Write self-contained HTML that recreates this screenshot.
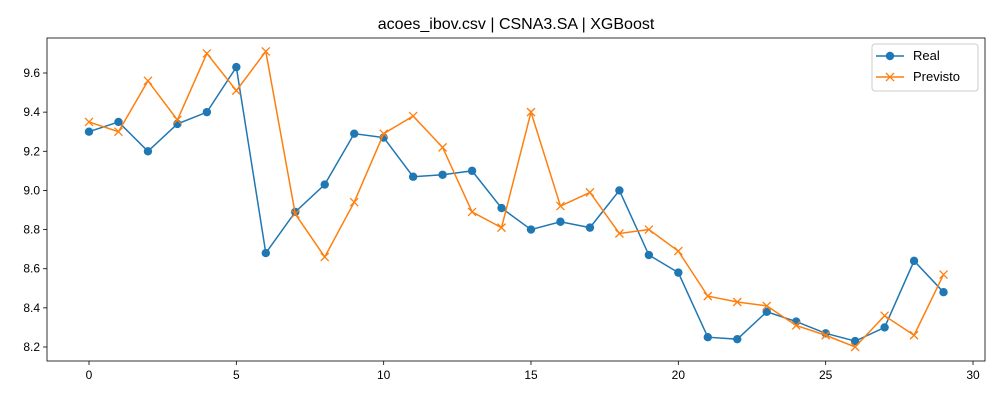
<!DOCTYPE html>
<html><head><meta charset="utf-8"><style>
body{margin:0;background:#fff;}
svg text{font-family:"Liberation Sans","DejaVu Sans",sans-serif;}
</style></head><body>
<svg id="chart" width="1000" height="400"></svg>
<script>
const xs = [0,1,2,3,4,5,6,7,8,9,10,11,12,13,14,15,16,17,18,19,20,21,22,23,24,25,26,27,28,29];
const realValues = [9.30,9.35,9.20,9.34,9.40,9.63,8.68,8.89,9.03,9.29,9.27,9.07,9.08,9.10,8.91,8.80,8.84,8.81,9.00,8.67,8.58,8.25,8.24,8.38,8.33,8.27,8.23,8.30,8.64,8.48];
const predValues = [9.35,9.30,9.56,9.36,9.70,9.51,9.71,8.88,8.66,8.94,9.29,9.38,9.22,8.89,8.81,9.40,8.92,8.99,8.78,8.80,8.69,8.46,8.43,8.41,8.31,8.26,8.20,8.36,8.26,8.57];
const xTicks = [0,5,10,15,20,25,30];
const yTicks = [8.2,8.4,8.6,8.8,9.0,9.2,9.4,9.6];

const NS="http://www.w3.org/2000/svg";
const svg=document.getElementById('chart');
const L=47,R=985,T=38,B=361;
const xS=v=>89+v*(973-89)/30;
const yS=v=>347+(8.2-v)*(274/1.4);
function el(t,a,p){const e=document.createElementNS(NS,t);for(const k in a)e.setAttribute(k,a[k]);(p||svg).appendChild(e);return e;}

const title=el('text',{x:516,y:29,'text-anchor':'middle','font-size':16,fill:'#000'});


title.textContent='acoes_ibov.csv | CSNA3.SA | XGBoost';

const frame=el('rect',{x:L,y:T,width:R-L,height:B-T,fill:'none',stroke:'#000','stroke-width':0.8});



xTicks.forEach(v=>{
  const g=el('g',{});
  
  
  el('line',{x1:xS(v),x2:xS(v),y1:B,y2:B+4,stroke:'#000','stroke-width':0.8},g);
  const t=el('text',{x:xS(v),y:B+18,'text-anchor':'middle','font-size':12,fill:'#000'},g);
  t.textContent=v;
});
yTicks.forEach(v=>{
  const g=el('g',{});
  
  
  el('line',{x1:L-4,x2:L,y1:yS(v),y2:yS(v),stroke:'#000','stroke-width':0.8},g);
  const t=el('text',{x:L-7,y:yS(v)+4,'text-anchor':'end','font-size':12,fill:'#000'},g);
  t.textContent=v.toFixed(1);
});

function series(vals,color,marker,name){
  const g=el('g',{});
  
  
  el('polyline',{points:vals.map((v,i)=>xS(xs[i])+','+yS(v)).join(' '),fill:'none',stroke:color,'stroke-width':1.5},g);
  vals.forEach((v,i)=>{
    const x=xS(xs[i]),y=yS(v);
    if(marker==='o'){const c=el('circle',{cx:x,cy:y,r:4.2,fill:color},g);
      
      }
    else{const p=el('path',{d:`M${x-4},${y-4}L${x+4},${y+4}M${x-4},${y+4}L${x+4},${y-4}`,stroke:color,'stroke-width':1.3},g);
      
      }
  });
}
series(realValues,'#1f77b4','o','real-series');
series(predValues,'#ff7f0e','x','predicted-series');

const lg=el('g',{});


el('rect',{x:872,y:44,width:106,height:47,rx:3,fill:'#fff',stroke:'#ccc'},lg);
el('line',{x1:876,x2:904,y1:56,y2:56,stroke:'#1f77b4','stroke-width':1.5},lg);
el('circle',{cx:890,cy:56,r:4.2,fill:'#1f77b4'},lg);
const t1=el('text',{x:913,y:60,'font-size':13},lg);t1.textContent='Real';
el('line',{x1:876,x2:904,y1:77,y2:77,stroke:'#ff7f0e','stroke-width':1.5},lg);
el('path',{d:'M886,73L894,81M886,81L894,73',stroke:'#ff7f0e','stroke-width':1.3},lg);
const t2=el('text',{x:913,y:81,'font-size':13},lg);t2.textContent='Previsto';
</script>
</body></html>
